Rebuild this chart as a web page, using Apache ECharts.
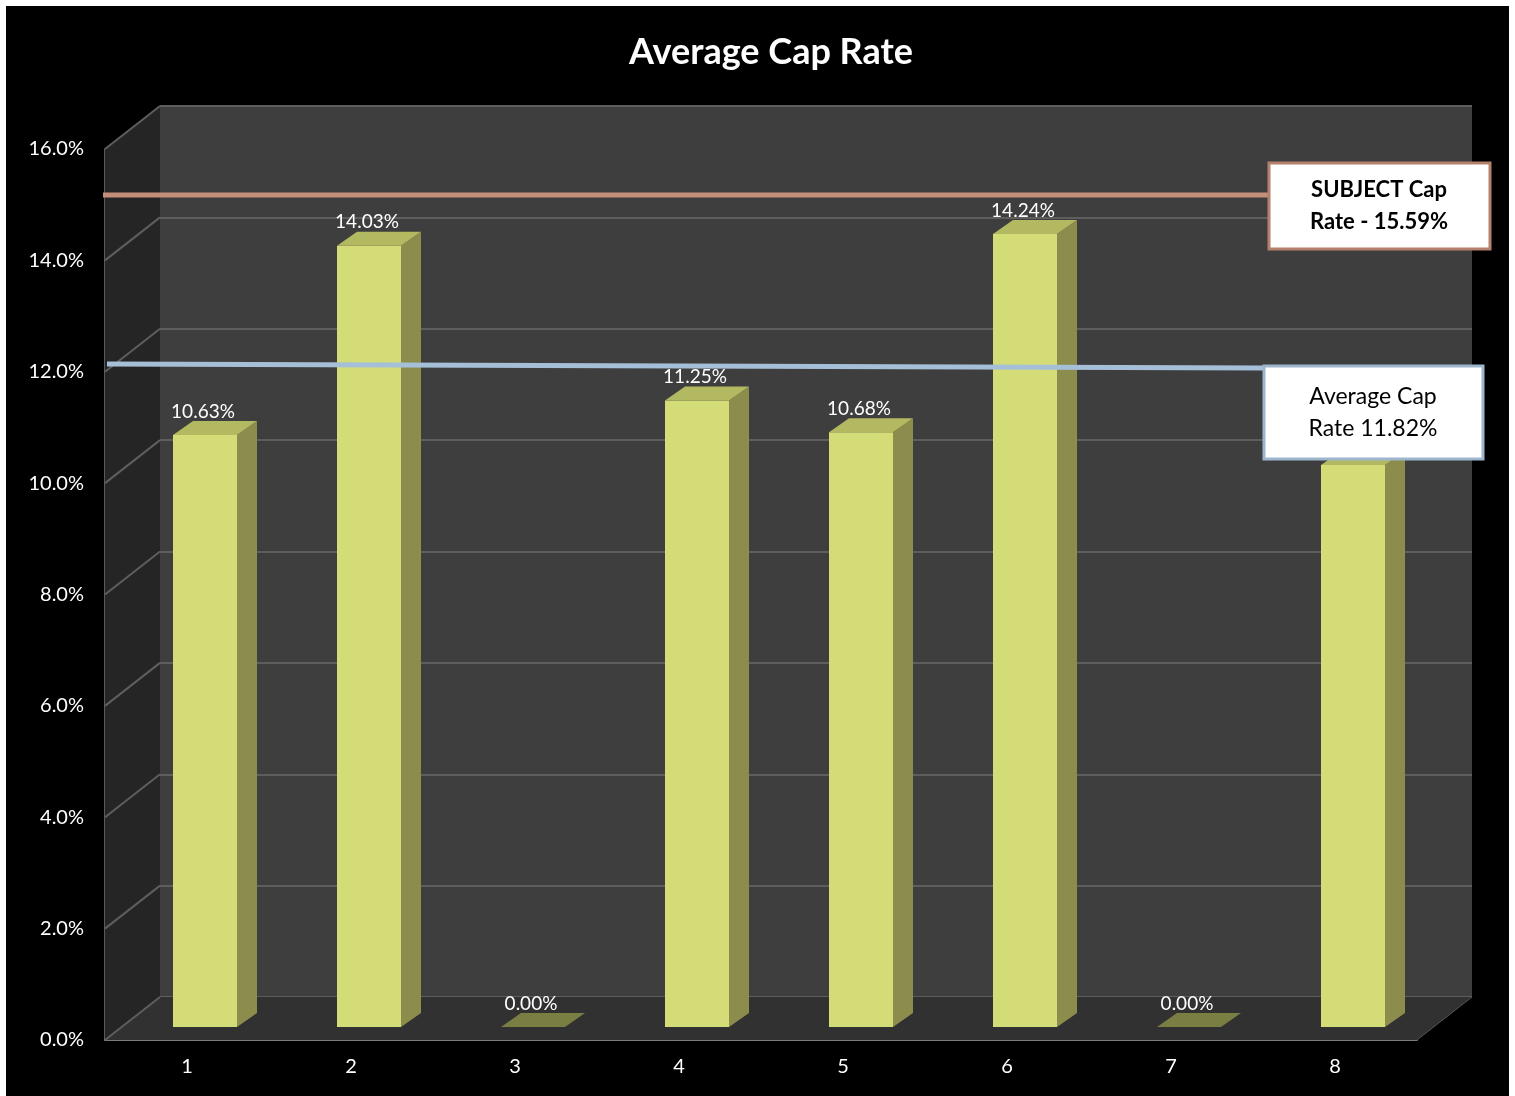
<!DOCTYPE html>
<html>
<head>
<meta charset="utf-8">
<title>Average Cap Rate</title>
<script src="https://cdn.jsdelivr.net/npm/echarts@6/dist/echarts.min.js"></script>
<style>
    html, body { margin: 0; padding: 0; background: #fff; }
    #chart { width: 1515px; height: 1096px; }
</style>
</head>
<body>
<div id="chart"></div>
<script>
const categories = ['1', '2', '3', '4', '5', '6', '7', '8'];
const capRates = [10.63, 14.03, 0.00, 11.25, 10.68, 14.24, 0.00, 10.09];
const subjectRate = 15.59;
const averageRate = 11.82;
const wallTicks = [0, 2, 4, 6, 8, 10, 12, 14, 16];

// depth of the fake 3d box
const DX = 55, DY = -43;
const FONT = 'Lato, "Open Sans", sans-serif';

function frameItem(params, api) {
    // side wall + floor, built from the front axis
    let half = api.size([1, 0])[0] / 2;
    let p0 = api.coord([0, 0]);
    let pTop = api.coord([0, 16]);
    let pEnd = api.coord([categories.length - 1, 0]);
    let left = p0[0] - half, right = pEnd[0] + half;
    let y0 = p0[1], yt = pTop[1];
    let children = [{
        type: 'polygon',
        shape: { points: [[left, yt], [left + DX, yt + DY], [left + DX, y0 + DY], [left, y0]] },
        style: { fill: '#252525' }
    }, {
        type: 'polygon',
        shape: { points: [[left, y0], [right, y0], [right + DX, y0 + DY], [left + DX, y0 + DY]] },
        style: { fill: '#313131' }
    }, {
        type: 'line',
        shape: { x1: right, y1: y0, x2: right + DX, y2: y0 + DY },
        style: { stroke: '#555', lineWidth: 1 }
    }];
    for (let v of wallTicks) {
        let p = api.coord([0, v]);
        children.push({
            type: 'line',
            shape: { x1: left, y1: p[1], x2: left + DX, y2: p[1] + DY },
            style: { stroke: '#5e5e5e', lineWidth: 2 }
        });
    }
    return { type: 'group', children: children };
}

function barItem(params, api) {
    let i = api.value(0);
    let v = api.value(1);
    let top = api.coord([i, v]);
    let base = api.coord([i, 0]);
    let w = 64, dx = 20, dy = -14;
    let x0 = top[0] - w / 2;
    let children = [];
    if (v > 0) {
        children.push({
            type: 'rect',
            shape: { x: x0, y: top[1], width: w, height: base[1] - top[1] },
            style: { fill: '#d4dc78' }
        });
        children.push({
            type: 'polygon',
            shape: { points: [[x0 + w, top[1]], [x0 + w + dx, top[1] + dy], [x0 + w + dx, base[1] + dy], [x0 + w, base[1]]] },
            style: { fill: '#8c8d4d' }
        });
        children.push({
            type: 'polygon',
            shape: { points: [[x0, top[1]], [x0 + w, top[1]], [x0 + w + dx, top[1] + dy], [x0 + dx, top[1] + dy]] },
            style: { fill: '#b3b961' }
        });
    } else {
        children.push({
            type: 'polygon',
            shape: { points: [[x0, top[1]], [x0 + w, top[1]], [x0 + w + dx, top[1] + dy], [x0 + dx, top[1] + dy]] },
            style: { fill: '#7b7e43' }
        });
    }
    children.push({
        type: 'text',
        style: {
            x: top[0] - 2, y: top[1] + dy,
            text: v.toFixed(2) + '%',
            fill: '#fff', font: '19px ' + FONT,
            align: 'center', verticalAlign: 'bottom'
        }
    });
    return { type: 'group', children: children };
}

let option = {
    backgroundColor: '#fff',
    animation: false,
    title: {
        text: 'Average Cap Rate',
        left: 766, top: 29, textAlign: 'center',
        textStyle: { color: '#fff', fontSize: 36, fontWeight: 'bold', fontFamily: FONT }
    },
    grid: [
        // back wall
        { left: 160, top: 106, width: 1312, height: 891, show: true, backgroundColor: '#3e3e3e', borderWidth: 0 },
        // front edge, carries the labels
        { left: 105, top: 149, width: 1312, height: 891 },
        // bars sit half way in
        { left: 123, top: 136, width: 1312, height: 891 }
    ],
    xAxis: [
        { gridIndex: 0, type: 'category', data: categories, show: false },
        {
            gridIndex: 1, type: 'category', data: categories,
            axisLine: { lineStyle: { color: '#7a7a7a', width: 2 } },
            axisTick: { show: false },
            axisLabel: { color: '#fff', fontSize: 20, fontFamily: FONT, margin: 17 }
        },
        { gridIndex: 2, type: 'category', data: categories, show: false }
    ],
    yAxis: [
        {
            gridIndex: 0, type: 'value', min: 0, max: 16, interval: 2,
            axisLine: { show: false }, axisTick: { show: false }, axisLabel: { show: false },
            splitLine: { lineStyle: { color: '#5e5e5e', width: 2 } }
        },
        {
            gridIndex: 1, type: 'value', min: 0, max: 16, interval: 2,
            axisLine: { show: true, lineStyle: { color: '#5a5a5a', width: 2 } },
            axisTick: { show: false },
            splitLine: { show: false },
            axisLabel: {
                color: '#fff', fontSize: 20, fontFamily: FONT, margin: 21,
                formatter: v => v.toFixed(1) + '%'
            }
        },
        { gridIndex: 2, type: 'value', min: 0, max: 16, show: false, splitLine: { show: false } }
    ],
    series: [
        {
            type: 'custom', name: 'frame',
            xAxisIndex: 1, yAxisIndex: 1,
            renderItem: frameItem,
            data: [[0, 0]],
            z: 1, silent: true
        },
        {
            type: 'custom', name: 'Cap Rate',
            xAxisIndex: 2, yAxisIndex: 2,
            renderItem: barItem,
            data: capRates.map((v, i) => [i, v]),
            z: 5
        }
    ],
    graphic: [
        {
            type: 'rect', z: -10, silent: true,
            shape: { x: 6, y: 6, width: 1503, height: 1090 },
            style: { fill: '#000' }
        },
        {
            type: 'line', z: 50,
            shape: { x1: 103, y1: 195, x2: 1268, y2: 195 },
            style: { stroke: '#c38f7b', lineWidth: 5 }
        },
        {
            type: 'rect', z: 60,
            shape: { x: 1269, y: 163, width: 221, height: 86 },
            style: { fill: '#fff', stroke: '#b5806c', lineWidth: 3 }
        },
        {
            type: 'text', z: 61,
            style: {
                x: 1379, y: 206, text: 'SUBJECT Cap\nRate - ' + subjectRate.toFixed(2) + '%',
                fill: '#000', font: 'bold 22px ' + FONT, lineHeight: 32,
                align: 'center', verticalAlign: 'middle'
            }
        },
        {
            type: 'line', z: 50,
            shape: { x1: 107, y1: 364, x2: 1263, y2: 368 },
            style: { stroke: '#a6bfd8', lineWidth: 5 }
        },
        {
            type: 'rect', z: 60,
            shape: { x: 1264, y: 366, width: 219, height: 93 },
            style: { fill: '#fff', stroke: '#9db6ce', lineWidth: 3 }
        },
        {
            type: 'text', z: 61,
            style: {
                x: 1373, y: 413, text: 'Average Cap\nRate ' + averageRate.toFixed(2) + '%',
                fill: '#000', font: '23px ' + FONT, lineHeight: 32,
                align: 'center', verticalAlign: 'middle'
            }
        }
    ]
};

let myChart = echarts.init(document.getElementById('chart'));
myChart.setOption(option);
</script>
</body>
</html>
